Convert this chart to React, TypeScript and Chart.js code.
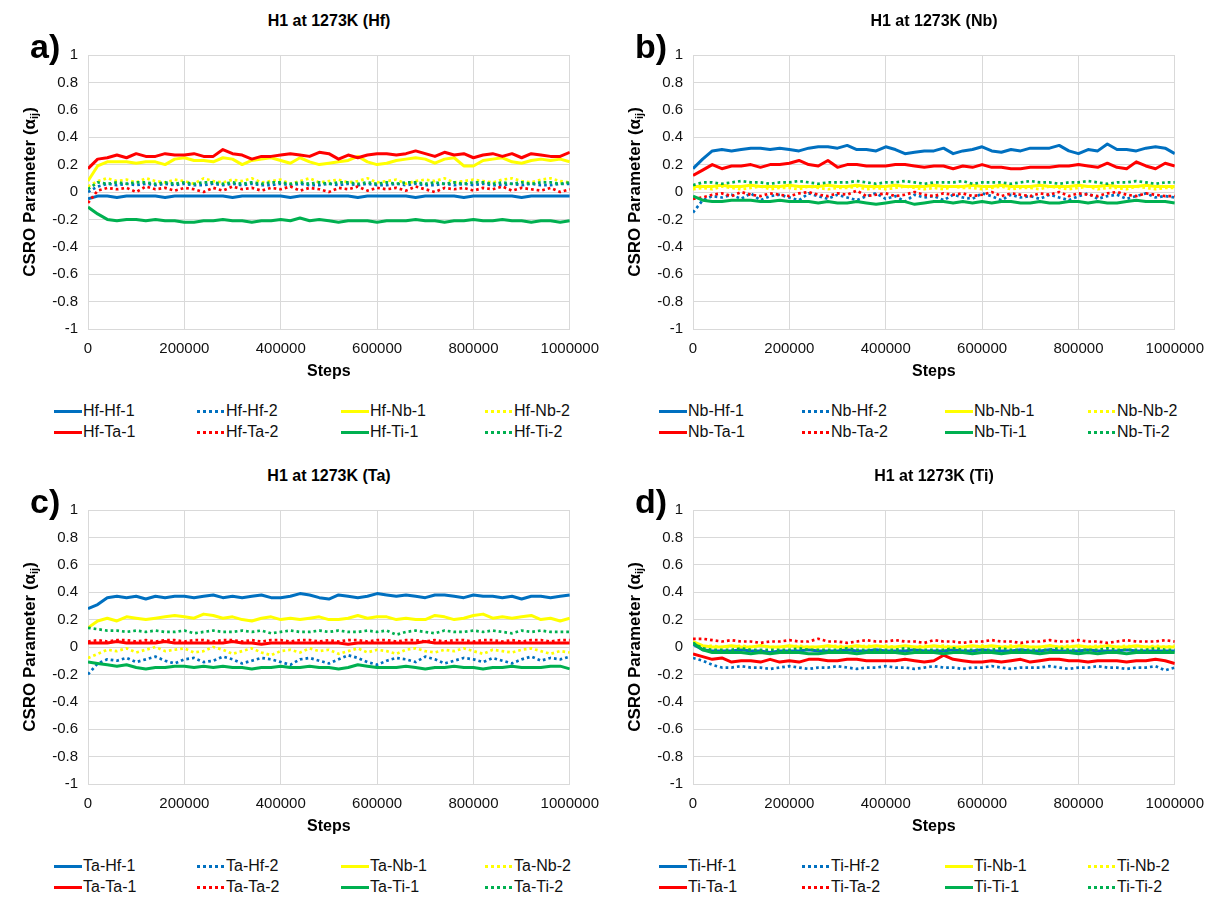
import React, { useEffect, useRef } from "react";
import { Chart, registerables } from "chart.js";

Chart.register(...registerables);

const FONT = '"Liberation Sans", Arial, Helvetica, sans-serif';

// x positions (Monte Carlo steps), one sample every 20000 steps
const STEPS: number[] = Array.from({ length: 51 }, (_, i) => i * 20000);
const X_TICKS = [0, 200000, 400000, 600000, 800000, 1000000];

const PAIRS = ["Hf-1", "Hf-2", "Nb-1", "Nb-2", "Ta-1", "Ta-2", "Ti-1", "Ti-2"];
const COLORS = ["#0070C0", "#0070C0", "#FFFF00", "#FFFF00", "#FF0000", "#FF0000", "#00B050", "#00B050"];

// ---------------- a) Hf ----------------
const hfHf1 = [
  -0.05, -0.03, -0.03, -0.04, -0.03, -0.03, -0.03, -0.03, -0.04, -0.03,
  -0.03, -0.03, -0.03, -0.03, -0.03, -0.04, -0.03, -0.03, -0.03, -0.03,
  -0.03, -0.04, -0.03, -0.03, -0.03, -0.03, -0.03, -0.03, -0.04, -0.03,
  -0.03, -0.03, -0.03, -0.03, -0.04, -0.03, -0.03, -0.03, -0.03, -0.04,
  -0.03, -0.03, -0.03, -0.03, -0.03, -0.04, -0.03, -0.03, -0.03, -0.03,
  -0.03];
const hfHf2 = [
  0.0, 0.04, 0.06, 0.05, 0.06, 0.05, 0.06, 0.05, 0.06, 0.05,
  0.06, 0.05, 0.05, 0.06, 0.05, 0.06, 0.05, 0.06, 0.05, 0.05,
  0.06, 0.05, 0.06, 0.05, 0.05, 0.06, 0.05, 0.06, 0.05, 0.06,
  0.05, 0.05, 0.06, 0.05, 0.06, 0.05, 0.05, 0.06, 0.05, 0.06,
  0.05, 0.06, 0.05, 0.05, 0.06, 0.05, 0.06, 0.05, 0.05, 0.06,
  0.06];
const hfNb1 = [
  0.08, 0.19, 0.22, 0.22, 0.22, 0.21, 0.22, 0.22, 0.20, 0.24,
  0.25, 0.23, 0.23, 0.22, 0.25, 0.24, 0.20, 0.23, 0.24, 0.25,
  0.23, 0.21, 0.25, 0.22, 0.20, 0.21, 0.22, 0.23, 0.26, 0.22,
  0.20, 0.21, 0.23, 0.24, 0.25, 0.24, 0.21, 0.24, 0.25, 0.19,
  0.19, 0.23, 0.24, 0.25, 0.22, 0.21, 0.23, 0.24, 0.23, 0.24,
  0.22];
const hfNb2 = [
  0.04, 0.08, 0.10, 0.08, 0.09, 0.07, 0.10, 0.08, 0.07, 0.09,
  0.08, 0.06, 0.10, 0.08, 0.07, 0.09, 0.08, 0.10, 0.07, 0.08,
  0.09, 0.06, 0.08, 0.10, 0.07, 0.08, 0.09, 0.07, 0.08, 0.10,
  0.07, 0.08, 0.09, 0.06, 0.08, 0.09, 0.08, 0.10, 0.07, 0.08,
  0.09, 0.08, 0.07, 0.09, 0.10, 0.08, 0.07, 0.09, 0.10, 0.08,
  0.07];
const hfTa1 = [
  0.17, 0.24, 0.25, 0.27, 0.25, 0.28, 0.26, 0.26, 0.28, 0.27,
  0.27, 0.28, 0.26, 0.26, 0.31, 0.28, 0.27, 0.24, 0.26, 0.26,
  0.27, 0.28, 0.27, 0.26, 0.29, 0.28, 0.24, 0.27, 0.25, 0.27,
  0.28, 0.28, 0.27, 0.28, 0.30, 0.28, 0.26, 0.29, 0.27, 0.28,
  0.25, 0.27, 0.28, 0.26, 0.28, 0.25, 0.28, 0.27, 0.26, 0.26,
  0.29];
const hfTa2 = [
  -0.08, 0.01, 0.03, 0.02, 0.03, 0.0, 0.04, 0.02, 0.03, 0.01,
  0.03, 0.02, 0.0, 0.03, 0.01, 0.04, 0.02, 0.03, 0.01, 0.03,
  0.02, 0.04, 0.01, 0.03, 0.02, 0.0, 0.03, 0.02, 0.04, 0.01,
  0.03, 0.02, 0.03, 0.01, 0.04, 0.02, 0.0, 0.03, 0.02, 0.03,
  0.01, 0.03, 0.02, 0.04, 0.01, 0.03, 0.02, 0.01, 0.03, 0.0,
  0.02];
const hfTi1 = [
  -0.11, -0.16, -0.20, -0.21, -0.20, -0.20, -0.21, -0.20, -0.21, -0.21,
  -0.22, -0.22, -0.21, -0.21, -0.20, -0.21, -0.21, -0.22, -0.21, -0.21,
  -0.20, -0.21, -0.19, -0.21, -0.20, -0.21, -0.22, -0.21, -0.21, -0.21,
  -0.22, -0.21, -0.21, -0.21, -0.20, -0.21, -0.21, -0.22, -0.21, -0.21,
  -0.20, -0.21, -0.21, -0.20, -0.21, -0.21, -0.22, -0.21, -0.21, -0.22,
  -0.21];
const hfTi2 = [
  0.02, 0.07, 0.06, 0.07, 0.06, 0.07, 0.07, 0.06, 0.07, 0.06,
  0.07, 0.06, 0.07, 0.07, 0.06, 0.07, 0.06, 0.07, 0.06, 0.07,
  0.07, 0.06, 0.07, 0.06, 0.07, 0.06, 0.07, 0.07, 0.06, 0.07,
  0.06, 0.07, 0.06, 0.07, 0.07, 0.06, 0.07, 0.06, 0.07, 0.06,
  0.07, 0.07, 0.06, 0.07, 0.06, 0.07, 0.06, 0.07, 0.07, 0.06,
  0.07];

// ---------------- b) Nb ----------------
const nbHf1 = [
  0.17, 0.24, 0.30, 0.31, 0.30, 0.31, 0.32, 0.32, 0.31, 0.32,
  0.31, 0.30, 0.32, 0.33, 0.33, 0.32, 0.34, 0.31, 0.31, 0.30,
  0.33, 0.31, 0.28, 0.29, 0.30, 0.30, 0.32, 0.28, 0.30, 0.31,
  0.33, 0.30, 0.29, 0.31, 0.30, 0.32, 0.32, 0.32, 0.34, 0.30,
  0.28, 0.31, 0.30, 0.35, 0.31, 0.31, 0.30, 0.32, 0.33, 0.32,
  0.28];
const nbHf2 = [
  -0.15, -0.06, -0.03, -0.04, -0.02, -0.05, -0.01, -0.06, -0.03, -0.02,
  -0.04, -0.06, -0.01, -0.03, -0.05, -0.02, -0.04, -0.06, -0.03, -0.01,
  -0.05, -0.03, -0.07, -0.02, -0.04, -0.03, -0.06, -0.02, -0.04, -0.05,
  -0.01, -0.03, -0.06, -0.02, -0.04, -0.03, -0.05, -0.02, -0.04, -0.06,
  -0.03, -0.01, -0.05, -0.03, -0.02, -0.05, -0.03, -0.01, -0.04, -0.03,
  -0.04];
const nbNb1 = [
  0.04, 0.04, 0.04, 0.05, 0.04, 0.04, 0.05, 0.04, 0.04, 0.04,
  0.05, 0.04, 0.04, 0.04, 0.05, 0.04, 0.04, 0.05, 0.04, 0.04,
  0.04, 0.05, 0.04, 0.04, 0.04, 0.05, 0.04, 0.04, 0.04, 0.05,
  0.04, 0.04, 0.05, 0.04, 0.04, 0.04, 0.05, 0.04, 0.04, 0.04,
  0.05, 0.04, 0.04, 0.05, 0.04, 0.04, 0.04, 0.05, 0.04, 0.04,
  0.04];
const nbNb2 = [
  0.02, 0.03, 0.02, 0.04, 0.03, 0.02, 0.03, 0.04, 0.02, 0.03,
  0.03, 0.02, 0.04, 0.03, 0.02, 0.03, 0.03, 0.04, 0.02, 0.03,
  0.02, 0.03, 0.04, 0.03, 0.02, 0.03, 0.02, 0.04, 0.03, 0.03,
  0.02, 0.03, 0.04, 0.02, 0.03, 0.03, 0.02, 0.04, 0.03, 0.02,
  0.03, 0.04, 0.02, 0.03, 0.03, 0.02, 0.04, 0.03, 0.02, 0.03,
  0.03];
const nbTa1 = [
  0.12, 0.16, 0.20, 0.17, 0.19, 0.19, 0.20, 0.18, 0.20, 0.20,
  0.21, 0.23, 0.20, 0.19, 0.23, 0.18, 0.20, 0.20, 0.19, 0.19,
  0.19, 0.20, 0.20, 0.19, 0.18, 0.19, 0.19, 0.17, 0.19, 0.18,
  0.20, 0.18, 0.18, 0.17, 0.17, 0.18, 0.18, 0.18, 0.19, 0.19,
  0.20, 0.19, 0.18, 0.21, 0.18, 0.17, 0.22, 0.19, 0.17, 0.21,
  0.19];
const nbTa2 = [
  -0.05, -0.04, -0.02, -0.01, -0.03, 0.0, -0.02, -0.03, -0.01, -0.02,
  -0.03, -0.01, 0.0, -0.02, -0.03, -0.01, -0.02, 0.01, -0.03, -0.02,
  -0.01, -0.03, -0.02, 0.0, -0.02, -0.03, -0.01, -0.02, -0.01, -0.03,
  -0.02, 0.0, -0.03, -0.01, -0.02, -0.03, -0.01, -0.02, 0.0, -0.03,
  -0.01, -0.02, -0.03, -0.01, 0.0, -0.02, -0.03, -0.01, -0.02, -0.03,
  -0.03];
const nbTi1 = [
  -0.03, -0.06, -0.07, -0.07, -0.06, -0.06, -0.06, -0.07, -0.07, -0.06,
  -0.07, -0.07, -0.07, -0.08, -0.07, -0.08, -0.08, -0.07, -0.08, -0.09,
  -0.08, -0.07, -0.07, -0.09, -0.08, -0.07, -0.07, -0.08, -0.07, -0.08,
  -0.07, -0.08, -0.07, -0.07, -0.08, -0.08, -0.07, -0.08, -0.08, -0.07,
  -0.07, -0.08, -0.07, -0.08, -0.08, -0.07, -0.06, -0.07, -0.07, -0.07,
  -0.08];
const nbTi2 = [
  0.05, 0.07, 0.07, 0.06, 0.07, 0.08, 0.07, 0.07, 0.06, 0.07,
  0.07, 0.08, 0.07, 0.06, 0.07, 0.07, 0.07, 0.08, 0.07, 0.06,
  0.07, 0.07, 0.08, 0.07, 0.06, 0.07, 0.07, 0.07, 0.08, 0.06,
  0.07, 0.07, 0.07, 0.06, 0.07, 0.08, 0.07, 0.07, 0.06, 0.07,
  0.07, 0.08, 0.07, 0.06, 0.07, 0.07, 0.08, 0.07, 0.06, 0.07,
  0.07];

// ---------------- c) Ta ----------------
const taHf1 = [
  0.28, 0.31, 0.36, 0.37, 0.36, 0.37, 0.35, 0.37, 0.36, 0.37,
  0.37, 0.36, 0.37, 0.38, 0.36, 0.37, 0.36, 0.37, 0.38, 0.36,
  0.36, 0.37, 0.39, 0.38, 0.36, 0.35, 0.38, 0.37, 0.36, 0.37,
  0.39, 0.38, 0.37, 0.38, 0.37, 0.36, 0.38, 0.38, 0.37, 0.36,
  0.38, 0.37, 0.37, 0.36, 0.37, 0.35, 0.37, 0.37, 0.36, 0.37,
  0.38];
const taHf2 = [
  -0.20, -0.12, -0.09, -0.10, -0.08, -0.11, -0.09, -0.07, -0.10, -0.12,
  -0.09, -0.08, -0.11, -0.10, -0.07, -0.09, -0.12, -0.10, -0.08, -0.09,
  -0.11, -0.13, -0.09, -0.08, -0.10, -0.12, -0.09, -0.06, -0.08, -0.11,
  -0.13, -0.10, -0.08, -0.09, -0.11, -0.07, -0.09, -0.12, -0.10, -0.08,
  -0.09, -0.11, -0.08, -0.10, -0.12, -0.09, -0.07, -0.10, -0.08, -0.09,
  -0.07];
const taNb1 = [
  0.14, 0.19, 0.21, 0.19, 0.22, 0.21, 0.20, 0.21, 0.22, 0.23,
  0.22, 0.21, 0.24, 0.23, 0.21, 0.22, 0.20, 0.19, 0.21, 0.22,
  0.20, 0.21, 0.20, 0.21, 0.22, 0.20, 0.20, 0.21, 0.23, 0.21,
  0.22, 0.22, 0.20, 0.21, 0.20, 0.20, 0.23, 0.22, 0.20, 0.21,
  0.23, 0.24, 0.21, 0.22, 0.21, 0.22, 0.23, 0.20, 0.21, 0.19,
  0.21];
const taNb2 = [
  -0.08, -0.05, -0.02, -0.03, -0.01, -0.04, -0.02, 0.0, -0.03, -0.02,
  -0.01, -0.04, -0.03, 0.0, -0.02, -0.05, -0.03, -0.01, -0.04, -0.06,
  -0.03, -0.02, -0.04, -0.01, -0.03, -0.02, -0.05, -0.03, -0.01, -0.04,
  -0.02, -0.03, -0.05, -0.02, -0.01, -0.03, -0.04, -0.02, -0.03, -0.01,
  -0.03, -0.05, -0.02, -0.03, -0.04, -0.02, -0.01, -0.03, -0.05, -0.03,
  -0.04];
const taTa1 = [
  0.03, 0.03, 0.03, 0.04, 0.03, 0.03, 0.03, 0.03, 0.04, 0.03,
  0.03, 0.03, 0.03, 0.03, 0.03, 0.04, 0.03, 0.03, 0.02, 0.03,
  0.03, 0.03, 0.03, 0.03, 0.03, 0.03, 0.03, 0.02, 0.03, 0.03,
  0.03, 0.03, 0.03, 0.03, 0.03, 0.04, 0.03, 0.03, 0.03, 0.03,
  0.03, 0.03, 0.03, 0.03, 0.03, 0.03, 0.03, 0.03, 0.03, 0.03,
  0.03];
const taTa2 = [
  0.04, 0.05, 0.04, 0.05, 0.05, 0.04, 0.05, 0.04, 0.05, 0.05,
  0.04, 0.05, 0.05, 0.04, 0.05, 0.05, 0.04, 0.05, 0.04, 0.05,
  0.05, 0.04, 0.05, 0.05, 0.04, 0.05, 0.04, 0.05, 0.05, 0.04,
  0.05, 0.05, 0.04, 0.05, 0.05, 0.04, 0.05, 0.04, 0.05, 0.05,
  0.04, 0.05, 0.05, 0.04, 0.05, 0.04, 0.05, 0.05, 0.04, 0.05,
  0.05];
const taTi1 = [
  -0.11, -0.12, -0.13, -0.14, -0.13, -0.15, -0.16, -0.15, -0.15, -0.14,
  -0.14, -0.15, -0.14, -0.15, -0.14, -0.15, -0.15, -0.16, -0.15, -0.15,
  -0.14, -0.15, -0.15, -0.14, -0.15, -0.15, -0.16, -0.15, -0.13, -0.14,
  -0.15, -0.15, -0.15, -0.14, -0.15, -0.16, -0.15, -0.15, -0.14, -0.15,
  -0.15, -0.16, -0.15, -0.15, -0.14, -0.15, -0.15, -0.15, -0.14, -0.14,
  -0.16];
const taTi2 = [
  0.14, 0.13, 0.12, 0.12, 0.11, 0.12, 0.11, 0.12, 0.11, 0.11,
  0.12, 0.10, 0.11, 0.12, 0.11, 0.11, 0.12, 0.11, 0.12, 0.10,
  0.11, 0.12, 0.11, 0.11, 0.12, 0.11, 0.12, 0.11, 0.11, 0.12,
  0.11, 0.12, 0.09, 0.11, 0.12, 0.11, 0.10, 0.12, 0.11, 0.11,
  0.12, 0.11, 0.12, 0.11, 0.10, 0.12, 0.11, 0.12, 0.11, 0.11,
  0.11];

// ---------------- d) Ti ----------------
const tiHf1 = [
  0.02, -0.02, -0.03, -0.03, -0.03, -0.02, -0.03, -0.03, -0.04, -0.03,
  -0.03, -0.03, -0.02, -0.03, -0.03, -0.03, -0.02, -0.03, -0.03, -0.02,
  -0.03, -0.03, -0.03, -0.02, -0.03, -0.03, -0.03, -0.02, -0.03, -0.03,
  -0.02, -0.03, -0.03, -0.03, -0.02, -0.03, -0.03, -0.02, -0.03, -0.03,
  -0.03, -0.02, -0.03, -0.03, -0.03, -0.02, -0.03, -0.03, -0.03, -0.03,
  -0.03];
const tiHf2 = [
  -0.08, -0.10, -0.13, -0.15, -0.15, -0.14, -0.15, -0.15, -0.16, -0.15,
  -0.14, -0.15, -0.16, -0.15, -0.15, -0.14, -0.15, -0.16, -0.15, -0.15,
  -0.14, -0.15, -0.15, -0.16, -0.15, -0.14, -0.15, -0.15, -0.16, -0.15,
  -0.15, -0.14, -0.15, -0.16, -0.15, -0.15, -0.15, -0.14, -0.15, -0.16,
  -0.15, -0.15, -0.14, -0.15, -0.15, -0.16, -0.15, -0.15, -0.14, -0.17,
  -0.15];
const tiNb1 = [
  0.04, 0.01, 0.0, 0.0, 0.01, 0.0, 0.0, 0.01, 0.0, 0.0,
  0.01, 0.0, 0.0, 0.0, 0.01, 0.0, 0.0, 0.01, 0.0, 0.01,
  0.0, 0.0, 0.01, 0.0, 0.0, 0.01, 0.0, 0.0, 0.0, 0.01,
  0.0, 0.01, 0.0, 0.0, 0.01, 0.0, 0.0, 0.01, 0.0, 0.0,
  0.01, 0.0, 0.0, 0.01, 0.0, 0.0, 0.01, 0.0, 0.0, 0.0,
  0.0];
const tiNb2 = [
  0.03, 0.0, 0.01, 0.0, 0.0, 0.01, 0.0, 0.01, 0.0, 0.0,
  0.0, 0.01, 0.0, 0.0, 0.0, 0.01, 0.0, 0.0, 0.01, 0.0,
  0.01, 0.0, 0.0, 0.0, 0.01, 0.0, 0.01, 0.0, 0.0, 0.0,
  0.01, 0.0, 0.0, 0.01, 0.0, 0.0, 0.0, 0.01, 0.0, 0.01,
  0.0, 0.0, 0.01, 0.0, 0.0, 0.01, 0.0, 0.0, 0.01, 0.0,
  0.01];
const tiTa1 = [
  -0.05, -0.07, -0.09, -0.08, -0.11, -0.10, -0.10, -0.11, -0.09, -0.11,
  -0.10, -0.11, -0.09, -0.09, -0.10, -0.10, -0.09, -0.09, -0.10, -0.10,
  -0.10, -0.10, -0.09, -0.10, -0.11, -0.10, -0.06, -0.09, -0.10, -0.11,
  -0.11, -0.10, -0.11, -0.10, -0.09, -0.11, -0.10, -0.09, -0.09, -0.10,
  -0.10, -0.11, -0.10, -0.10, -0.10, -0.11, -0.10, -0.10, -0.09, -0.10,
  -0.12];
const tiTa2 = [
  0.06, 0.06, 0.05, 0.04, 0.05, 0.04, 0.04, 0.03, 0.04, 0.04,
  0.05, 0.04, 0.04, 0.06, 0.04, 0.04, 0.03, 0.04, 0.05, 0.04,
  0.04, 0.05, 0.04, 0.04, 0.03, 0.05, 0.04, 0.04, 0.03, 0.04,
  0.04, 0.05, 0.04, 0.04, 0.03, 0.04, 0.04, 0.05, 0.04, 0.04,
  0.05, 0.04, 0.04, 0.03, 0.04, 0.05, 0.04, 0.04, 0.04, 0.05,
  0.04];
const tiTi1 = [
  0.03, -0.02, -0.04, -0.04, -0.04, -0.04, -0.05, -0.04, -0.05, -0.04,
  -0.04, -0.04, -0.05, -0.05, -0.04, -0.04, -0.04, -0.05, -0.04, -0.04,
  -0.04, -0.04, -0.05, -0.04, -0.04, -0.04, -0.05, -0.04, -0.04, -0.05,
  -0.04, -0.04, -0.05, -0.04, -0.04, -0.04, -0.05, -0.04, -0.04, -0.04,
  -0.05, -0.04, -0.05, -0.04, -0.04, -0.05, -0.04, -0.04, -0.04, -0.04,
  -0.04];
const tiTi2 = [
  0.03, -0.01, -0.02, -0.02, -0.02, -0.01, -0.02, -0.02, -0.02, -0.02,
  -0.02, -0.01, -0.02, -0.02, -0.02, -0.02, -0.01, -0.02, -0.02, -0.02,
  -0.02, -0.02, -0.01, -0.02, -0.02, -0.02, -0.02, -0.01, -0.02, -0.02,
  -0.02, -0.02, -0.01, -0.02, -0.02, -0.02, -0.02, -0.02, -0.01, -0.02,
  -0.02, -0.02, -0.02, -0.01, -0.02, -0.02, -0.02, -0.02, -0.01, -0.02,
  -0.02];

type PanelCfg = {
  letter: string;
  el: string;
  title: string;
  series: number[][];
  plotLeft: number;
  plotTop: number;
  legendX: number[];
  legendY: number[];
};

const PLOT_W = 482;
const PLOT_H = 281;
const Y_AXIS_W = 88;
const PAD_TOP = 12;
const PAD_RIGHT = 40;
const X_AXIS_H = 52;
const CANVAS_W = Y_AXIS_W + PLOT_W + PAD_RIGHT;
const CANVAS_H = PAD_TOP + PLOT_H + X_AXIS_H;

const PANELS: PanelCfg[] = [
  {
    letter: "a)", el: "Hf", title: "H1 at 1273K (Hf)",
    series: [hfHf1, hfHf2, hfNb1, hfNb2, hfTa1, hfTa2, hfTi1, hfTi2],
    plotLeft: 88, plotTop: 48, legendX: [54, 197, 341, 485], legendY: [411, 432],
  },
  {
    letter: "b)", el: "Nb", title: "H1 at 1273K (Nb)",
    series: [nbHf1, nbHf2, nbNb1, nbNb2, nbTa1, nbTa2, nbTi1, nbTi2],
    plotLeft: 693, plotTop: 48, legendX: [659, 802, 945, 1088], legendY: [411, 432],
  },
  {
    letter: "c)", el: "Ta", title: "H1 at 1273K (Ta)",
    series: [taHf1, taHf2, taNb1, taNb2, taTa1, taTa2, taTi1, taTi2],
    plotLeft: 88, plotTop: 503, legendX: [54, 197, 341, 485], legendY: [866, 887],
  },
  {
    letter: "d)", el: "Ti", title: "H1 at 1273K (Ti)",
    series: [tiHf1, tiHf2, tiNb1, tiNb2, tiTa1, tiTa2, tiTi1, tiTi2],
    plotLeft: 693, plotTop: 503, legendX: [659, 802, 945, 1088], legendY: [866, 887],
  },
];

const yTitlePlugin = {
  id: "yTitleSub",
  afterDraw(chart: any) {
    const { ctx, chartArea } = chart;
    const cy = (chartArea.top + chartArea.bottom) / 2;
    const cx = 30;
    const main = "CSRO Parameter (\u03B1";
    const sub = "ij";
    const end = ")";
    ctx.save();
    ctx.translate(cx, cy);
    ctx.rotate(-Math.PI / 2);
    ctx.fillStyle = "#000";
    ctx.textBaseline = "middle";
    ctx.textAlign = "left";
    ctx.font = `bold 17px ${FONT}`;
    const w1 = ctx.measureText(main).width;
    const w3 = ctx.measureText(end).width;
    ctx.font = `bold 11px ${FONT}`;
    const w2 = ctx.measureText(sub).width;
    let x = -(w1 + w2 + w3) / 2;
    ctx.font = `bold 17px ${FONT}`;
    ctx.fillText(main, x, 0);
    x += w1;
    ctx.font = `bold 11px ${FONT}`;
    ctx.fillText(sub, x, 5);
    x += w2;
    ctx.font = `bold 17px ${FONT}`;
    ctx.fillText(end, x, 0);
    ctx.restore();
  },
};

function Panel({ cfg }: { cfg: PanelCfg }) {
  const ref = useRef<HTMLCanvasElement>(null);
  useEffect(() => {
    const chart = new Chart(ref.current as HTMLCanvasElement, {
      type: "line",
      data: {
        datasets: cfg.series.map((vals, i) => ({
          label: `${cfg.el}-${PAIRS[i]}`,
          data: vals.map((v, j) => ({ x: STEPS[j], y: v })),
          borderColor: COLORS[i],
          backgroundColor: COLORS[i],
          borderWidth: i % 2 ? 2.7 : 3,
          borderDash: i % 2 ? [2.7, 3] : [],
          borderCapStyle: "butt",
          borderJoinStyle: "round",
          pointRadius: 0,
          tension: 0,
          fill: false,
          order: 7 - i,
        })),
      },
      options: {
        animation: false,
        responsive: false,
        maintainAspectRatio: false,
        layout: { padding: { top: PAD_TOP, right: PAD_RIGHT, left: 0, bottom: 0 } },
        plugins: {
          legend: { display: false },
          title: { display: false },
          tooltip: { enabled: false },
        },
        scales: {
          x: {
            type: "linear",
            min: 0,
            max: 1000000,
            afterBuildTicks: (s: any) => { s.ticks = X_TICKS.map((v) => ({ value: v })); },
            afterFit: (s: any) => { s.height = X_AXIS_H; },
            ticks: {
              autoSkip: false,
              maxRotation: 0,
              minRotation: 0,
              padding: 11,
              color: "#111",
              font: { family: FONT, size: 15 },
              callback: (v: any) => String(v),
            },
            grid: { color: "#d9d9d9", lineWidth: 1, drawTicks: false },
            border: { color: "#d9d9d9" },
            title: {
              display: true,
              text: "Steps",
              color: "#000",
              font: { family: FONT, size: 16, weight: "bold" },
              padding: 0,
            },
          },
          y: {
            min: -1,
            max: 1,
            afterFit: (s: any) => { s.width = Y_AXIS_W; },
            ticks: {
              stepSize: 0.2,
              padding: 10,
              color: "#111",
              font: { family: FONT, size: 15 },
              callback: (v: any) => String(Math.round(Number(v) * 10) / 10),
            },
            grid: { color: "#d9d9d9", lineWidth: 1, drawTicks: false },
            border: { color: "#d9d9d9" },
          },
        },
      } as any,
      plugins: [yTitlePlugin],
    });
    return () => chart.destroy();
  }, [cfg]);

  const canvasLeft = cfg.plotLeft - Y_AXIS_W;
  const canvasTop = cfg.plotTop - PAD_TOP;
  const titleCx = cfg.plotLeft + PLOT_W / 2;

  return (
    <>
      <canvas
        ref={ref}
        width={CANVAS_W}
        height={CANVAS_H}
        style={{ position: "absolute", left: canvasLeft, top: canvasTop, width: CANVAS_W, height: CANVAS_H }}
      />
      <div
        style={{
          position: "absolute", left: titleCx - 200, width: 400, top: cfg.plotTop - 38,
          textAlign: "center", font: `bold 16px ${FONT}`, lineHeight: "22px", color: "#000",
        }}
      >
        {cfg.title}
      </div>
      <div
        style={{
          position: "absolute", left: cfg.plotLeft - 58, top: cfg.plotTop - 20,
          font: `bold 34px ${FONT}`, lineHeight: "36px", color: "#000",
        }}
      >
        {cfg.letter}
      </div>
      {PAIRS.map((p, i) => {
        // legend order: row 0 = Hf-1, Hf-2, Nb-1, Nb-2 ; row 1 = Ta-1, Ta-2, Ti-1, Ti-2
        const r = i < 4 ? 0 : 1;
        const c = i % 4;
        const dotted = i % 2 === 1;
        return (
          <div
            key={p}
            style={{
              position: "absolute", left: cfg.legendX[c], top: cfg.legendY[r] - 10, height: 20,
              display: "flex", alignItems: "center", whiteSpace: "nowrap",
              font: `16px ${FONT}`, color: "#111",
            }}
          >
            <span
              style={{
                display: "inline-block", width: 28, height: 3, marginRight: 1,
                background: dotted
                  ? `repeating-linear-gradient(to right, ${COLORS[i]} 0px, ${COLORS[i]} 3px, transparent 3px, transparent 6px)`
                  : COLORS[i],
              }}
            />
            <span>{`${cfg.el}-${p}`}</span>
          </div>
        );
      })}
    </>
  );
}

export default function App() {
  return (
    <div style={{ position: "absolute", left: 0, top: 0, width: 1225, height: 903 }}>
      {PANELS.map((cfg) => (
        <Panel key={cfg.letter} cfg={cfg} />
      ))}
    </div>
  );
}
